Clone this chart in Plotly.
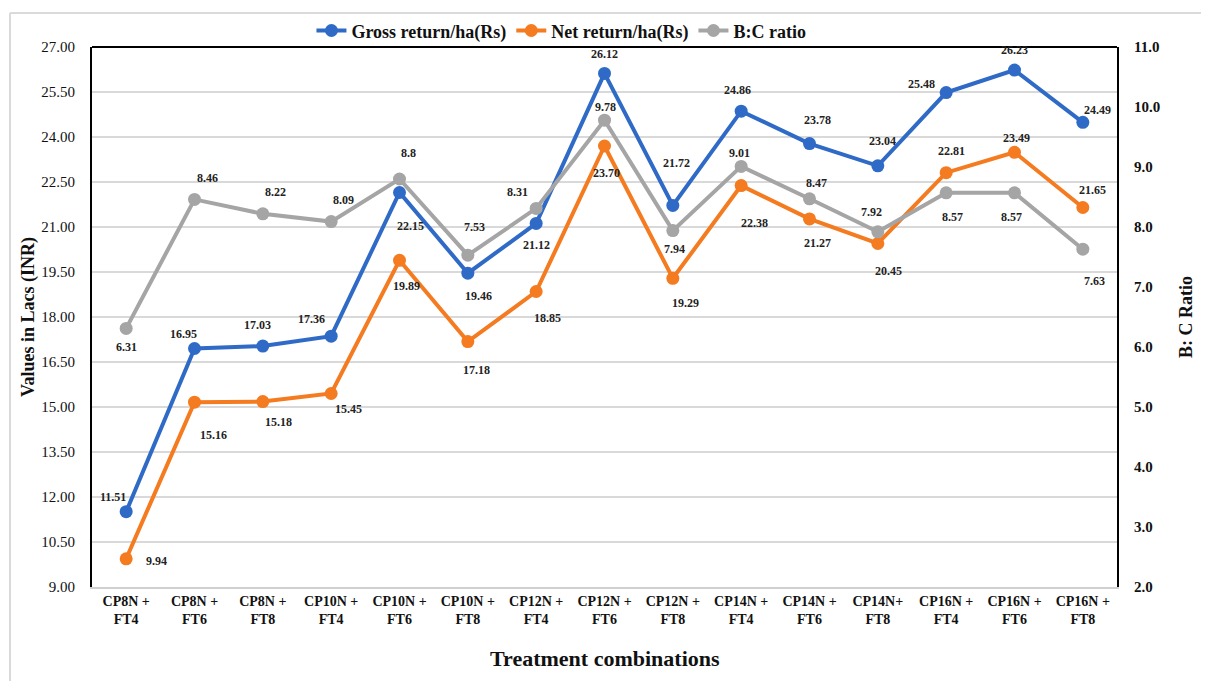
import plotly.graph_objects as go

categories = ["CP8N +<br>FT4", "CP8N +<br>FT6", "CP8N +<br>FT8", "CP10N +<br>FT4", "CP10N +<br>FT6",
              "CP10N +<br>FT8", "CP12N +<br>FT4", "CP12N +<br>FT6", "CP12N +<br>FT8", "CP14N +<br>FT4",
              "CP14N +<br>FT6", "CP14N+<br>FT8", "CP16N +<br>FT4", "CP16N +<br>FT6", "CP16N +<br>FT8"]
gross = [11.51, 16.95, 17.03, 17.36, 22.15, 19.46, 21.12, 26.12, 21.72, 24.86, 23.78, 23.04, 25.48, 26.23, 24.49]
net = [9.94, 15.16, 15.18, 15.45, 19.89, 17.18, 18.85, 23.70, 19.29, 22.38, 21.27, 20.45, 22.81, 23.49, 21.65]
bc = [6.31, 8.46, 8.22, 8.09, 8.8, 7.53, 8.31, 9.78, 7.94, 9.01, 8.47, 7.92, 8.57, 8.57, 7.63]
gross_text = ["11.51", "16.95", "17.03", "17.36", "22.15", "19.46", "21.12", "26.12", "21.72", "24.86",
              "23.78", "23.04", "25.48", "26.23", "24.49"]
net_text = ["9.94", "15.16", "15.18", "15.45", "19.89", "17.18", "18.85", "23.70", "19.29", "22.38",
            "21.27", "20.45", "22.81", "23.49", "21.65"]
bc_text = ["6.31", "8.46", "8.22", "8.09", "8.8", "7.53", "8.31", "9.78", "7.94", "9.01",
           "8.47", "7.92", "8.57", "8.57", "7.63"]

# label offsets in pixels (dx right, dy down)
gross_off = [(-13, -15), (-11, -15), (-5, -21), (-20, -17), (11, 33), (11, 23), (0, 22), (0, -19),
             (4, -42), (-4, -21), (8, -24), (5, -25), (-25, -9), (0, -20), (15, -12)]
net_off = [(30, 2), (19, 33), (16, 20), (17, 15), (7, 26), (9, 28), (11, 26), (2, 27),
           (13, 25), (13, 37), (8, 24), (11, 27), (5, -22), (2, -14), (10, -18)]
bc_off = [(0, 19), (13, -21), (13, -22), (12, -22), (9, -26), (7, -28), (-19, -16), (1, -13),
          (2, 18), (-2, -13), (7, -16), (-6, -20), (6, 24), (-3, 24), (12, 32)]

BLUE = "#2F6BC6"
ORANGE = "#F47B20"
GRAY = "#A5A5A5"
FONT = "Liberation Serif"

fig = go.Figure()
fig.add_trace(go.Scatter(x=categories, y=gross, mode="lines+markers", name="<b>Gross return/ha(Rs)</b>",
                         line=dict(color=BLUE, width=4), marker=dict(size=13, color=BLUE)))
fig.add_trace(go.Scatter(x=categories, y=net, mode="lines+markers", name="<b>Net return/ha(Rs)</b>",
                         line=dict(color=ORANGE, width=4), marker=dict(size=13, color=ORANGE)))
fig.add_trace(go.Scatter(x=categories, y=bc, mode="lines+markers", name="<b>B:C ratio</b>", yaxis="y2",
                         line=dict(color=GRAY, width=4), marker=dict(size=13, color=GRAY)))

annotations = []
for vals, texts, offs, yref in [(gross, gross_text, gross_off, "y"), (net, net_text, net_off, "y"),
                                (bc, bc_text, bc_off, "y2")]:
    for c, v, t, (dx, dy) in zip(categories, vals, texts, offs):
        annotations.append(dict(x=c, y=v, xref="x", yref=yref, text="<b>" + t + "</b>", showarrow=False,
                                xshift=dx, yshift=-dy, font=dict(family=FONT, size=12, color="#222")))

annotations.append(dict(x=0.5, y=-0.105, xref="paper", yref="paper", yanchor="top", showarrow=False,
                        text="<b>Treatment combinations</b>", font=dict(family=FONT, size=22, color="#111")))

fig.update_layout(
    width=1201, height=673,
    margin=dict(l=84, r=92, t=39, b=94, autoexpand=False),
    paper_bgcolor="white", plot_bgcolor="white",
    font=dict(family=FONT, color="#111"),
    showlegend=True,
    legend=dict(orientation="h", x=0.458, xanchor="center", y=1.03, yanchor="middle",
                font=dict(family=FONT, size=18, color="#111"), bgcolor="rgba(0,0,0,0)",
                tracegroupgap=0),
    xaxis=dict(type="category", showgrid=False, showline=True, linecolor="#D0D0D0", linewidth=2,
               ticks="", tickfont=dict(family=FONT, size=14, color="#111"),
               tickprefix="<b>", ticksuffix="</b>", range=[-0.5, 14.5]),
    yaxis=dict(range=[9, 27], dtick=1.5, tick0=9, tickformat=".2f", showgrid=True, gridcolor="#D9D9D9",
               gridwidth=2, showline=True, linecolor="black", linewidth=2, zeroline=False,
               tickfont=dict(family=FONT, size=15, color="#111"), ticks="", ticklabelstandoff=12,
               title=dict(text="<b>Values in Lacs (INR)</b>", font=dict(family=FONT, size=18, color="#111"),
                          standoff=2)),
    yaxis2=dict(range=[2, 11], dtick=1, tick0=2, tickformat=".1f", overlaying="y", side="right",
                showgrid=False, showline=True, linecolor="black", linewidth=2, zeroline=False,
                tickfont=dict(family=FONT, size=15, color="#111"), tickprefix="<b>", ticksuffix="</b>",
                ticks="", ticklabelstandoff=12,
                title=dict(text="<b>B: C Ratio</b>", font=dict(family=FONT, size=18, color="#111"), standoff=20)),
    annotations=annotations,
    shapes=[
        dict(type="line", xref="paper", yref="paper", x0=0, x1=1, y0=1, y1=1, line=dict(color="black", width=2)),
        dict(type="line", xref="paper", yref="paper", x0=-0.08, x1=1.09, y0=1.063, y1=1.063,
             line=dict(color="#DADADA", width=2)),
        dict(type="line", xref="paper", yref="paper", x0=-0.08, x1=-0.08, y0=1.063, y1=-0.175,
             line=dict(color="#DADADA", width=2)),
    ],
)

fig.write_html("out.html")
